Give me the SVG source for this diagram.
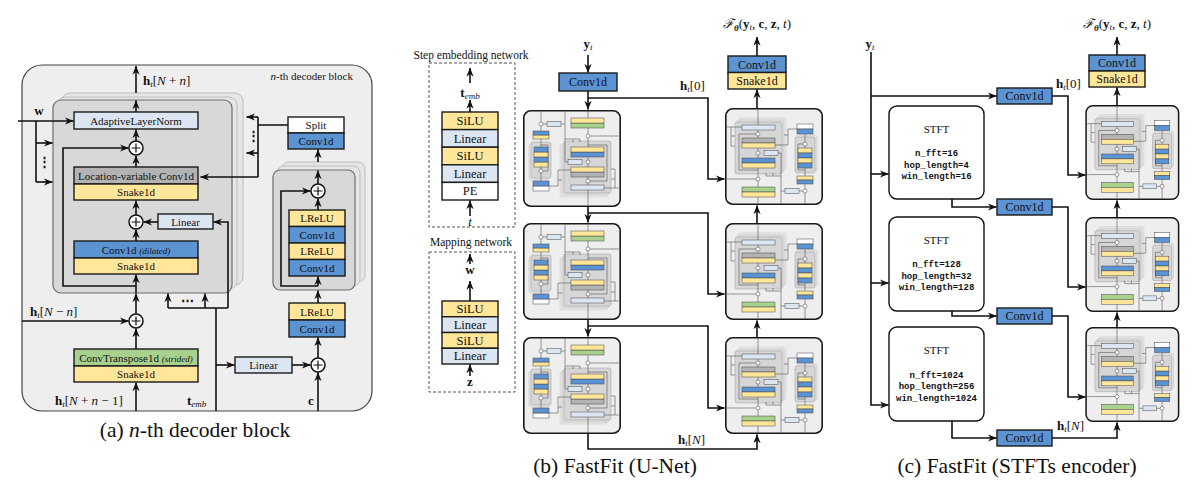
<svg xmlns="http://www.w3.org/2000/svg" width="1196" height="493" viewBox="0 0 1196 493">
<style>
.ln{fill:none;stroke:#111;stroke-width:1.6}
.th{fill:none;stroke:#555;stroke-width:0.6}
.bx{stroke:#1a1a1a;stroke-width:1.4}
.sb{stroke:#444;stroke-width:0.5}
.blue{fill:#5b93d3}.yel{fill:#ffe699}.lb{fill:#dce6f2}.grn{fill:#a9d18e}.gry{fill:#b3b3b3}.wht{fill:#fff}
text{font-family:"Liberation Serif","Times New Roman",serif;fill:#111}
.c{text-anchor:middle}
.f11{font-size:11px}.f12{font-size:12px}.f125{font-size:12.5px}.f13{font-size:13px}
.mono{font-family:"Liberation Mono","Courier New",monospace;font-size:9px;font-weight:bold;text-anchor:middle}
.cap{font-size:21.5px;text-anchor:middle}
.circ{fill:#fff;stroke:#111;stroke-width:1.5}
.dash{fill:none;stroke:#555;stroke-width:1;stroke-dasharray:3 2}
.stk1{fill:#e6e6e6;stroke:#bdbdbd;stroke-width:1}
.stk0{fill:#d8d8d8;stroke:#6d6d6d;stroke-width:1.2}
.blk{fill:#eee;stroke:#1a1a1a;stroke-width:1.6}
</style>
<defs>
<marker id="a" viewBox="0 0 10 8" refX="9.6" refY="4" markerWidth="9" markerHeight="7.5" markerUnits="userSpaceOnUse" orient="auto"><path d="M0,0 L10,4 L0,8 L3,4 z" fill="#111"/></marker>
<g id="plus"><circle r="7" class="circ"/><path d="M-4.5,0H4.5M0,-4.5V4.5" stroke="#111" stroke-width="1.2"/></g>
<g id="mp"><circle r="2" fill="#fff" stroke="#444" stroke-width="0.5"/></g>
<g id="thumb">
<rect x="0.8" y="0.8" width="96.4" height="95.4" rx="7" class="blk"/>
<rect x="14" y="10" width="47" height="52" rx="2" fill="#e8e8e8" stroke="#c4c4c4" stroke-width="0.5"/>
<rect x="12" y="12" width="47" height="52" rx="2" fill="#e0e0e0" stroke="#bbb" stroke-width="0.5"/>
<rect x="10" y="14" width="47" height="52" rx="2" fill="#d6d6d6" stroke="#999" stroke-width="0.5"/>
<rect x="72" y="27" width="20" height="36" rx="2" fill="#e4e4e4" stroke="#bbb" stroke-width="0.5"/>
<rect x="70" y="29" width="20" height="36" rx="2" fill="#d6d6d6" stroke="#999" stroke-width="0.5"/>
<g class="th">
<path d="M33,1V96"/>
<path d="M33,62H14V26H31"/>
<path d="M2,19H17M6,19V38H10M6,28H10"/>
<path d="M73,21H63V37H50M63,27H59"/>
<path d="M80,26V96"/>
<path d="M80,62H73V36H78"/>
<path d="M53,45H56V96M41,65V68H56M48,65V68"/>
<path d="M60,83H56M74,83H78"/>
<path d="M0,71H31"/>
</g>
<g class="sb">
<rect class="lb" x="17" y="17" width="33" height="5"/>
<rect class="gry" x="17" y="30" width="33" height="5"/>
<rect class="yel" x="17" y="35" width="33" height="5"/>
<rect class="lb" x="39" y="42.5" width="14" height="5"/>
<rect class="blue" x="17" y="50" width="33" height="5"/>
<rect class="yel" x="17" y="55" width="33" height="5"/>
<rect class="grn" x="17" y="79" width="33" height="5"/>
<rect class="yel" x="17" y="84" width="33" height="5"/>
<rect class="wht" x="72" y="16" width="16" height="5"/>
<rect class="blue" x="72" y="21" width="16" height="5"/>
<rect class="yel" x="73" y="40" width="14" height="5"/>
<rect class="blue" x="73" y="45" width="14" height="5"/>
<rect class="yel" x="73" y="50" width="14" height="5"/>
<rect class="blue" x="73" y="55" width="14" height="5"/>
<rect class="yel" x="72" y="68" width="16" height="4"/>
<rect class="blue" x="72" y="72" width="16" height="4"/>
<rect class="lb" x="60" y="80.5" width="14" height="5"/>
</g>
<use href="#mp" x="33" y="26"/><use href="#mp" x="33" y="45"/><use href="#mp" x="33" y="71"/>
<use href="#mp" x="80" y="36"/><use href="#mp" x="80" y="83"/>
</g>
</defs>

<!-- ================= Panel (a) ================= -->
<g id="panel-a">
<rect x="22" y="65" width="350" height="346" rx="20" fill="#eee" stroke="#444" stroke-width="1.2"/>
<text x="353" y="80" class="f11" text-anchor="end"><tspan font-style="italic">n</tspan>-th decoder block</text>
</g>
<g id="a-main-stack">
<rect x="62" y="93" width="181" height="192" rx="8" class="stk1"/>
<rect x="57" y="97" width="180" height="192" rx="8" class="stk1"/>
<rect x="53" y="100" width="179" height="193" rx="8" class="stk0"/>
</g>
<g id="a-res-stack">
<rect x="282" y="162" width="83" height="120" rx="7" class="stk1"/>
<rect x="277" y="166" width="83" height="120" rx="7" class="stk1"/>
<rect x="273" y="170" width="82" height="120" rx="7" class="stk0"/>
</g>

<g id="a-connectors" class="ln">
<path d="M136,93V66" marker-end="url(#a)"/>
<path d="M136,112V100.5" marker-end="url(#a)"/>
<path d="M136,141V129.5" marker-end="url(#a)"/>
<path d="M136,167V155.5" marker-end="url(#a)"/>
<path d="M136,215V200.5" marker-end="url(#a)"/>
<path d="M136,241V229.5" marker-end="url(#a)"/>
<path d="M136,293V274.5" marker-end="url(#a)"/>
<path d="M136,314V293.5" marker-end="url(#a)"/>
<path d="M136,349V328.5" marker-end="url(#a)"/>
<path d="M136,411V382.5" marker-end="url(#a)"/>
<path d="M136,286H63V148H128.5" marker-end="url(#a)"/>
<path d="M158,222H143.5" marker-end="url(#a)"/>
<path d="M228,308V222H213.5" marker-end="url(#a)"/>
<path d="M216,411V308M168,308H228"/>
<path d="M168,308V293.5" marker-end="url(#a)"/>
<path d="M205,308V293.5" marker-end="url(#a)"/>
<path d="M216,365H234.5" marker-end="url(#a)"/>
<path d="M292,365H310.5" marker-end="url(#a)"/>
<path d="M318,411V372.5" marker-end="url(#a)"/>
<path d="M318,358V337.5" marker-end="url(#a)"/>
<path d="M318,303V290.5" marker-end="url(#a)"/>
<path d="M318,286V276.5" marker-end="url(#a)"/>
<path d="M318,210V198.5" marker-end="url(#a)"/>
<path d="M318,184V170.5" marker-end="url(#a)"/>
<path d="M318,286H281V191H310.5" marker-end="url(#a)"/>
<path d="M318,162V149.5" marker-end="url(#a)"/>
<path d="M288,125H258M258,117V177"/>
<path d="M258,117H246.5" marker-end="url(#a)"/>
<path d="M258,153H246.5" marker-end="url(#a)"/>
<path d="M258,177H200.5" marker-end="url(#a)"/>
<path d="M18,121H73.5" marker-end="url(#a)"/>
<path d="M36,121V182"/>
<path d="M36,143H52.5" marker-end="url(#a)"/>
<path d="M36,182H52.5" marker-end="url(#a)"/>
<path d="M22,321H128.5" marker-end="url(#a)"/>
</g>
<text x="253" y="140" class="f13 c" font-weight="bold">⋮</text>
<text x="44" y="166" class="f13 c" font-weight="bold">⋮</text>
<text x="187" y="305" class="f13 c" font-weight="bold">⋯</text>

<g id="a-aln"><rect class="bx lb" x="74" y="112" width="124" height="17"/><text x="136" y="124.5" class="f11 c">AdaptiveLayerNorm</text></g>
<g id="a-plus1"><use href="#plus" x="136" y="148"/></g>
<g id="a-lvc"><rect class="bx gry" x="74" y="167" width="124" height="17"/><rect class="bx yel" x="74" y="184" width="124" height="16"/>
<text x="136" y="179.5" class="f11 c">Location-variable Conv1d</text><text x="136" y="196" class="f11 c">Snake1d</text></g>
<g id="a-plus2"><use href="#plus" x="136" y="222"/></g>
<g id="a-linear1"><rect class="bx lb" x="158" y="214" width="55" height="15"/><text x="185.5" y="225.5" class="f11 c">Linear</text></g>
<g id="a-conv-dil"><rect class="bx blue" x="74" y="241" width="124" height="17"/><rect class="bx yel" x="74" y="258" width="124" height="16"/>
<text x="136" y="253.5" class="f11 c">Conv1d <tspan font-style="italic" font-size="9">(dilated)</tspan></text><text x="136" y="270" class="f11 c">Snake1d</text></g>
<g id="a-plus5"><use href="#plus" x="136" y="321"/></g>
<g id="a-convT"><rect class="bx grn" x="74" y="349" width="124" height="17"/><rect class="bx yel" x="74" y="366" width="124" height="16"/>
<text x="136" y="361.5" class="f11 c">ConvTranspose1d <tspan font-style="italic" font-size="9">(strided)</tspan></text><text x="136" y="378" class="f11 c">Snake1d</text></g>
<g id="a-split"><rect class="bx wht" x="288" y="117" width="56" height="16"/><rect class="bx blue" x="288" y="133" width="56" height="16"/>
<text x="316" y="129" class="f11 c">Split</text><text x="316" y="145" class="f11 c">Conv1d</text></g>
<g id="a-plus3"><use href="#plus" x="318" y="191"/></g>
<g id="a-res-layers">
<rect class="bx yel" x="289" y="210" width="56" height="16.5"/><rect class="bx blue" x="289" y="226.5" width="56" height="16.5"/>
<rect class="bx yel" x="289" y="243" width="56" height="16.5"/><rect class="bx blue" x="289" y="259.5" width="56" height="16.5"/>
<text x="317" y="222" class="f11 c">LReLU</text><text x="317" y="238.5" class="f11 c">Conv1d</text>
<text x="317" y="255" class="f11 c">LReLU</text><text x="317" y="271.5" class="f11 c">Conv1d</text></g>
<g id="a-cond"><rect class="bx yel" x="289" y="303" width="56" height="17"/><rect class="bx blue" x="289" y="320" width="56" height="17"/>
<text x="317" y="315.5" class="f11 c">LReLU</text><text x="317" y="332.5" class="f11 c">Conv1d</text></g>
<g id="a-linear2"><rect class="bx lb" x="235" y="357" width="57" height="16"/><text x="263.5" y="369" class="f11 c">Linear</text></g>
<g id="a-plus4"><use href="#plus" x="318" y="365"/></g>

<g id="a-labels">
<text x="143" y="85" class="f13"><tspan font-weight="bold">h</tspan><tspan font-size="9" font-style="italic" dy="2">t</tspan><tspan dy="-2">[</tspan><tspan font-style="italic">N</tspan> + <tspan font-style="italic">n</tspan>]</text>
<text x="39" y="115" class="f13 c" font-weight="bold">w</text>
<text x="30" y="316" class="f13"><tspan font-weight="bold">h</tspan><tspan font-size="9" font-style="italic" dy="2">t</tspan><tspan dy="-2">[</tspan><tspan font-style="italic">N</tspan> − <tspan font-style="italic">n</tspan>]</text>
<text x="55" y="405" class="f13"><tspan font-weight="bold">h</tspan><tspan font-size="9" font-style="italic" dy="2">t</tspan><tspan dy="-2">[</tspan><tspan font-style="italic">N</tspan> + <tspan font-style="italic">n</tspan> − 1]</text>
<text x="187" y="405" class="f13"><tspan font-weight="bold">t</tspan><tspan font-size="9" font-style="italic" dy="2">emb</tspan></text>
<text x="311" y="405" class="f13 c" font-weight="bold">c</text>
<text x="195" y="437" class="cap">(a) <tspan font-style="italic">n</tspan>-th decoder block</text>
</g>

<!-- ================= Panel (b) ================= -->
<g id="step-net">
<text x="471" y="59" class="c" font-size="11.5">Step embedding network</text>
<rect class="dash" x="429" y="63" width="86" height="164"/>
<rect class="bx yel" x="442" y="112" width="56" height="17.6"/>
<rect class="bx lb" x="442" y="129.6" width="56" height="17.6"/>
<rect class="bx yel" x="442" y="147.2" width="56" height="17.6"/>
<rect class="bx lb" x="442" y="164.8" width="56" height="17.6"/>
<rect class="bx wht" x="442" y="182.4" width="56" height="17.6"/>
<text x="470" y="125" class="f125 c">SiLU</text>
<text x="470" y="142.6" class="f125 c">Linear</text>
<text x="470" y="160.2" class="f125 c">SiLU</text>
<text x="470" y="177.8" class="f125 c">Linear</text>
<text x="470" y="195.4" class="f125 c">PE</text>
<text x="470" y="97" class="f13 c"><tspan font-weight="bold">t</tspan><tspan font-size="9" font-style="italic" dy="2">emb</tspan></text>
<text x="470" y="226" class="f13 c" font-style="italic">t</text>
</g>
<g id="map-net">
<text x="471" y="246" class="c" font-size="11.5">Mapping network</text>
<rect class="dash" x="429" y="252" width="86" height="140"/>
<rect class="bx yel" x="442" y="301" width="56" height="15.75"/>
<rect class="bx lb" x="442" y="316.75" width="56" height="15.75"/>
<rect class="bx yel" x="442" y="332.5" width="56" height="15.75"/>
<rect class="bx lb" x="442" y="348.25" width="56" height="15.75"/>
<text x="470" y="313" class="f125 c">SiLU</text>
<text x="470" y="328.8" class="f125 c">Linear</text>
<text x="470" y="344.5" class="f125 c">SiLU</text>
<text x="470" y="360.3" class="f125 c">Linear</text>
<text x="470" y="274" class="f13 c" font-weight="bold">w</text>
<text x="470" y="386" class="f13 c" font-weight="bold">z</text>
</g>

<g id="unet-in"><rect class="bx blue" x="559" y="73" width="58" height="18"/><text x="588" y="86" class="f12 c">Conv1d</text></g>
<g id="unet-out"><rect class="bx blue" x="728" y="56" width="58" height="16.5"/><rect class="bx yel" x="728" y="72.5" width="58" height="16.5"/>
<text x="757" y="68.5" class="f12 c">Conv1d</text><text x="757" y="85" class="f12 c">Snake1d</text></g>
<g id="enc1"><use href="#thumb" transform="translate(621,207) rotate(180)"/></g>
<g id="enc2"><use href="#thumb" transform="translate(621,320) rotate(180)"/></g>
<g id="enc3"><use href="#thumb" transform="translate(621,434) rotate(180)"/></g>
<g id="dec1"><use href="#thumb" transform="translate(725,108)"/></g>
<g id="dec2"><use href="#thumb" transform="translate(725,223)"/></g>
<g id="dec3"><use href="#thumb" transform="translate(725,337)"/></g>

<g id="b-connectors" class="ln">
<path d="M470,83V68" marker-end="url(#a)"/>
<path d="M470,112V100" marker-end="url(#a)"/>
<path d="M470,216V200.5" marker-end="url(#a)"/>
<path d="M470,264V254" marker-end="url(#a)"/>
<path d="M470,301V281" marker-end="url(#a)"/>
<path d="M470,376V364.5" marker-end="url(#a)"/>
<path d="M588,55V72.5" marker-end="url(#a)"/>
<path d="M588,91V109.5" marker-end="url(#a)"/>
<path d="M588,98H708V179H724.5" marker-end="url(#a)"/>
<path d="M588,207V222.5" marker-end="url(#a)"/>
<path d="M588,213H708V294H724.5" marker-end="url(#a)"/>
<path d="M588,320V336.5" marker-end="url(#a)"/>
<path d="M588,326H708V408H724.5" marker-end="url(#a)"/>
<path d="M588,434V449H757V434.5" marker-end="url(#a)"/>
<path d="M757,337V320.5" marker-end="url(#a)"/>
<path d="M757,223V205.5" marker-end="url(#a)"/>
<path d="M757,108V89.5" marker-end="url(#a)"/>
<path d="M757,56V37" marker-end="url(#a)"/>
</g>
<g id="b-labels">
<text x="588" y="48" class="f13 c"><tspan font-weight="bold">y</tspan><tspan font-size="9" font-style="italic" dy="2">t</tspan></text>
<text x="680" y="90" class="f13"><tspan font-weight="bold">h</tspan><tspan font-size="9" font-style="italic" dy="2">t</tspan><tspan dy="-2">[0]</tspan></text>
<text x="678" y="444" class="f13"><tspan font-weight="bold">h</tspan><tspan font-size="9" font-style="italic" dy="2">t</tspan><tspan dy="-2">[</tspan><tspan font-style="italic">N</tspan>]</text>
<text x="757" y="28" class="f13 c"><tspan font-family="DejaVu Serif" font-style="italic">ℱ</tspan><tspan font-size="9" dy="3" font-weight="bold" font-style="italic">θ</tspan><tspan dy="-3">(</tspan><tspan font-weight="bold">y</tspan><tspan font-size="9" dy="2" font-style="italic">t</tspan><tspan dy="-2">, </tspan><tspan font-weight="bold">c</tspan>, <tspan font-weight="bold">z</tspan>, <tspan font-style="italic">t</tspan>)</text>
<text x="615" y="473" class="cap">(b) FastFit (U-Net)</text>
</g>

<!-- ================= Panel (c) ================= -->
<g id="stft1"><rect x="889" y="106" width="95" height="93" rx="8" fill="#fff" stroke="#111" stroke-width="1.4"/>
<text x="936.5" y="133" class="f11 c">STFT</text>
<text x="936.5" y="156" class="mono">n_fft=16</text><text x="936.5" y="167.5" class="mono">hop_length=4</text><text x="936.5" y="179" class="mono">win_length=16</text></g>
<g id="stft2"><rect x="889" y="217" width="95" height="94" rx="8" fill="#fff" stroke="#111" stroke-width="1.4"/>
<text x="936.5" y="244" class="f11 c">STFT</text>
<text x="936.5" y="267" class="mono">n_fft=128</text><text x="936.5" y="278.5" class="mono">hop_length=32</text><text x="936.5" y="290" class="mono">win_length=128</text></g>
<g id="stft3"><rect x="889" y="327" width="95" height="94" rx="8" fill="#fff" stroke="#111" stroke-width="1.4"/>
<text x="936.5" y="354" class="f11 c">STFT</text>
<text x="936.5" y="377.5" class="mono">n_fft=1024</text><text x="936.5" y="389" class="mono">hop_length=256</text><text x="936.5" y="400.5" class="mono">win_length=1024</text></g>
<g id="c-conv0"><rect class="bx blue" x="997" y="88" width="55" height="16"/><text x="1024.5" y="100" class="f12 c">Conv1d</text></g>
<g id="c-conv1"><rect class="bx blue" x="997" y="199" width="55" height="16"/><text x="1024.5" y="211" class="f12 c">Conv1d</text></g>
<g id="c-conv2"><rect class="bx blue" x="997" y="308" width="55" height="16"/><text x="1024.5" y="320" class="f12 c">Conv1d</text></g>
<g id="c-conv3"><rect class="bx blue" x="997" y="430" width="55" height="16"/><text x="1024.5" y="442" class="f12 c">Conv1d</text></g>
<g id="c-out"><rect class="bx blue" x="1089" y="55" width="56" height="16"/><rect class="bx yel" x="1089" y="71" width="56" height="16"/>
<text x="1117" y="67" class="f12 c">Conv1d</text><text x="1117" y="83" class="f12 c">Snake1d</text></g>
<g id="cdec1"><use href="#thumb" transform="translate(1085.3,105) scale(0.96,0.98)"/></g>
<g id="cdec2"><use href="#thumb" transform="translate(1085.3,217) scale(0.96,0.98)"/></g>
<g id="cdec3"><use href="#thumb" transform="translate(1085.3,327) scale(0.96,0.98)"/></g>

<g id="c-connectors" class="ln">
<path d="M871,52V405H888.5" marker-end="url(#a)"/>
<path d="M871,96H996.5" marker-end="url(#a)"/>
<path d="M871,174H888.5" marker-end="url(#a)"/>
<path d="M871,283H888.5" marker-end="url(#a)"/>
<path d="M952,199V207H996.5" marker-end="url(#a)"/>
<path d="M952,311V316H996.5" marker-end="url(#a)"/>
<path d="M952,421V438H996.5" marker-end="url(#a)"/>
<path d="M1052,96H1068V175H1085.5" marker-end="url(#a)"/>
<path d="M1052,207H1068V287H1085.5" marker-end="url(#a)"/>
<path d="M1052,316H1068V397H1085.5" marker-end="url(#a)"/>
<path d="M1052,438H1117V422.5" marker-end="url(#a)"/>
<path d="M1117,327V312.5" marker-end="url(#a)"/>
<path d="M1117,217V200.5" marker-end="url(#a)"/>
<path d="M1117,105V87.5" marker-end="url(#a)"/>
<path d="M1117,55V37" marker-end="url(#a)"/>
</g>
<g id="c-labels">
<text x="870" y="48" class="f13 c"><tspan font-weight="bold">y</tspan><tspan font-size="9" font-style="italic" dy="2">t</tspan></text>
<text x="1056" y="88" class="f13"><tspan font-weight="bold">h</tspan><tspan font-size="9" font-style="italic" dy="2">t</tspan><tspan dy="-2">[0]</tspan></text>
<text x="1057" y="430" class="f13"><tspan font-weight="bold">h</tspan><tspan font-size="9" font-style="italic" dy="2">t</tspan><tspan dy="-2">[</tspan><tspan font-style="italic">N</tspan>]</text>
<text x="1117" y="28" class="f13 c"><tspan font-family="DejaVu Serif" font-style="italic">ℱ</tspan><tspan font-size="9" dy="3" font-weight="bold" font-style="italic">θ</tspan><tspan dy="-3">(</tspan><tspan font-weight="bold">y</tspan><tspan font-size="9" dy="2" font-style="italic">t</tspan><tspan dy="-2">, </tspan><tspan font-weight="bold">c</tspan>, <tspan font-weight="bold">z</tspan>, <tspan font-style="italic">t</tspan>)</text>
<text x="1017" y="473" class="cap">(c) FastFit (STFTs encoder)</text>
</g>
</svg>
